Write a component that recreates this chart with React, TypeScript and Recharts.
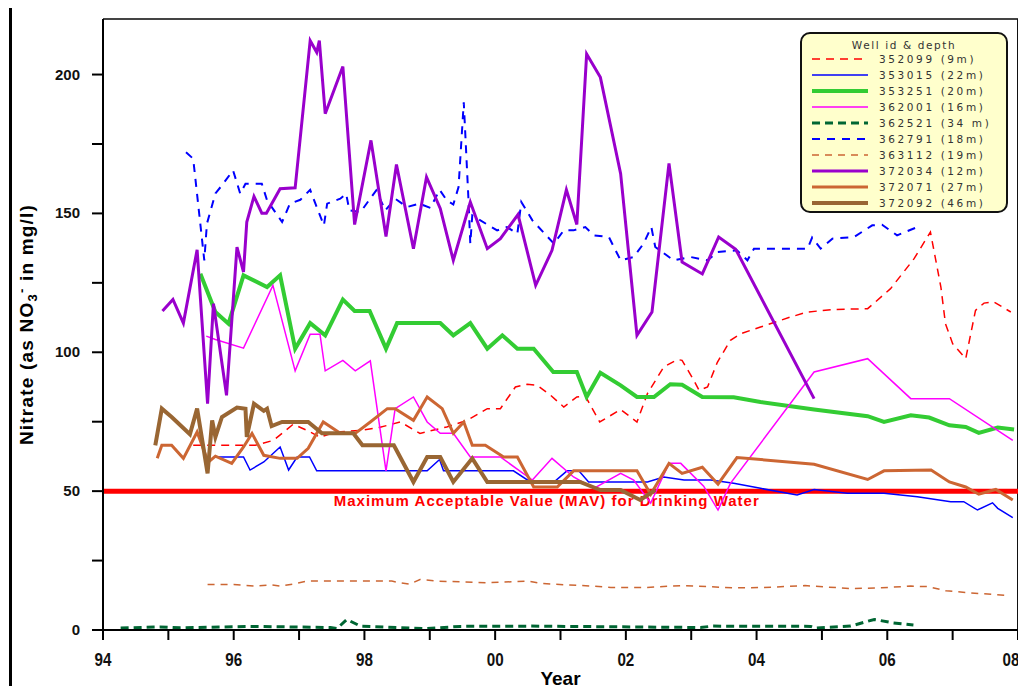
import React from "react";
import { LineChart, Line, XAxis, YAxis, ReferenceLine } from "recharts";

type Pt = [number, number];

// nitrate readings per well: [decimal year, NO3 mg/l]
const w352099: Pt[] = [
  [1995.38, 66.5], [1995.69, 66.5], [1996.33, 66.5], [1996.61, 68.3], [1996.91, 74.1],
  [1997.12, 71.9], [1997.32, 69.4], [1997.55, 71.2], [1997.94, 71.9], [1998.24, 73.0],
  [1998.55, 74.9], [1998.85, 70.8], [1999.26, 73.1], [1999.57, 75.5], [1999.88, 79.7],
  [2000.08, 79.7], [2000.31, 87.5], [2000.49, 88.5], [2000.64, 88.1], [2000.85, 84.5],
  [2001.05, 80.3], [2001.25, 83.9], [2001.38, 84.2], [2001.6, 74.9], [2001.92, 79.4],
  [2002.17, 74.9], [2002.33, 85.1], [2002.58, 94.7], [2002.79, 97.4], [2002.86, 97.1],
  [2003.04, 89.9], [2003.12, 86.3], [2003.25, 87.5], [2003.4, 96.4], [2003.6, 104.3],
  [2003.76, 106.7], [2004.06, 109.1], [2004.52, 112.7], [2004.78, 114.5], [2005.18, 115.4],
  [2005.7, 115.7], [2006.05, 122.9], [2006.41, 133.7], [2006.66, 143.3], [2006.82, 123.5],
  [2006.89, 110.3], [2007.0, 103.1], [2007.2, 97.7], [2007.35, 115.1], [2007.48, 117.7],
  [2007.63, 118.1], [2007.89, 114.5],
];

const w353015: Pt[] = [
  [1995.72, 62.3], [1996.15, 62.3], [1996.25, 57.6], [1996.46, 60.5], [1996.71, 65.9],
  [1996.84, 57.6], [1996.97, 62.3], [1997.16, 62.3], [1997.27, 57.3], [1998.96, 57.3],
  [1999.15, 61.4], [1999.21, 57.3], [2000.28, 57.3], [2000.54, 53.3], [2000.9, 53.3],
  [2001.1, 57.3], [2001.28, 57.3], [2001.43, 53.3], [2002.33, 53.3], [2002.58, 55.1],
  [2002.89, 54.0], [2003.3, 54.0], [2003.65, 52.8], [2004.06, 51.0], [2004.62, 48.6],
  [2004.88, 50.6], [2005.39, 49.2], [2005.95, 49.2], [2006.46, 48.0], [2006.97, 46.2],
  [2007.17, 46.2], [2007.38, 43.2], [2007.61, 45.8], [2007.69, 43.8], [2007.92, 40.5],
];

const w353251: Pt[] = [
  [1995.49, 128.3], [1995.72, 114.5], [1995.92, 110.3], [1996.15, 127.7], [1996.51, 123.5],
  [1996.71, 127.7], [1996.94, 101.3], [1997.17, 110.5], [1997.4, 106.1], [1997.67, 119.0],
  [1997.85, 114.9], [1998.08, 114.9], [1998.33, 101.3], [1998.5, 110.5], [1999.16, 110.5],
  [1999.36, 106.1], [1999.62, 110.5], [1999.88, 101.3], [2000.11, 106.1], [2000.34, 101.3],
  [2000.59, 101.3], [2000.89, 92.9], [2001.25, 92.9], [2001.4, 83.9], [2001.61, 92.6],
  [2001.92, 88.1], [2002.17, 83.9], [2002.43, 83.9], [2002.68, 88.5], [2002.86, 88.3],
  [2003.17, 83.9], [2003.65, 83.8], [2004.06, 82.1], [2004.88, 79.4], [2005.7, 77.0],
  [2005.95, 74.9], [2006.36, 77.3], [2006.64, 76.5], [2006.95, 73.7], [2007.2, 73.1],
  [2007.4, 71.0], [2007.69, 72.9], [2007.94, 72.2],
];

const w362001: Pt[] = [
  [1995.58, 105.8], [1995.72, 104.6], [1996.15, 101.5], [1996.6, 124.1], [1996.94, 93.3],
  [1997.17, 106.5], [1997.32, 106.5], [1997.4, 93.3], [1997.67, 97.1], [1997.86, 93.3],
  [1998.09, 96.9], [1998.33, 57.3], [1998.47, 79.7], [1998.75, 83.9], [1998.96, 74.9],
  [1999.16, 70.8], [1999.36, 70.8], [1999.62, 62.3], [2000.08, 62.3], [2000.57, 54.0],
  [2000.87, 61.8], [2001.2, 55.1], [2001.51, 51.0], [2001.92, 56.4], [2002.12, 54.0],
  [2002.38, 45.7], [2002.66, 60.0], [2002.84, 60.0], [2003.19, 51.8], [2003.41, 43.2],
  [2003.6, 52.8], [2004.88, 92.9], [2005.7, 97.7], [2006.36, 83.3], [2006.95, 83.3],
  [2007.92, 68.3],
];

const w362521: Pt[] = [
  [1994.27, 0.7], [1994.87, 1.1], [1995.18, 0.8], [1996.25, 1.3], [1997.48, 0.9],
  [1997.58, 0.5], [1997.73, 3.8], [1997.94, 1.4], [1998.94, 0.5], [1999.47, 1.3],
  [2000.54, 1.4], [2003.14, 0.9], [2003.33, 1.4], [2004.83, 1.3], [2004.9, 0.7],
  [2005.44, 1.4], [2005.8, 3.8], [2006.08, 2.6], [2006.4, 1.8],
];

const w362791: Pt[] = [
  [1995.27, 172.0], [1995.38, 169.7], [1995.55, 133.1], [1995.59, 146.3], [1995.72, 157.2],
  [1995.82, 160.1], [1995.99, 165.5], [1996.1, 157.1], [1996.18, 160.7], [1996.43, 160.7],
  [1996.51, 154.7], [1996.74, 146.9], [1996.86, 153.5], [1997.02, 154.9], [1997.17, 158.5],
  [1997.25, 153.5], [1997.38, 145.7], [1997.43, 153.5], [1997.63, 155.3], [1997.72, 157.1],
  [1997.77, 151.1], [1997.94, 150.5], [1998.18, 158.3], [1998.32, 151.1], [1998.47, 155.3],
  [1998.65, 152.3], [1998.84, 153.5], [1999.01, 152.0], [1999.15, 158.5], [1999.26, 154.7],
  [1999.36, 153.2], [1999.44, 159.5], [1999.52, 190.0], [1999.59, 155.9], [1999.62, 139.1],
  [1999.65, 149.3], [1999.9, 145.7], [2000.03, 143.9], [2000.18, 145.1], [2000.34, 142.7],
  [2000.4, 154.1], [2000.57, 147.5], [2000.9, 139.1], [2001.05, 143.9], [2001.2, 143.9],
  [2001.38, 145.1], [2001.51, 142.1], [2001.74, 141.5], [2001.92, 133.1], [2002.12, 134.3],
  [2002.27, 139.1], [2002.39, 145.1], [2002.45, 137.9], [2002.73, 133.1], [2002.99, 134.3],
  [2003.25, 133.1], [2003.4, 136.1], [2003.7, 136.7], [2003.86, 133.1], [2003.96, 137.3],
  [2004.78, 137.3], [2004.85, 141.3], [2004.98, 137.3], [2005.16, 140.9], [2005.49, 141.5],
  [2005.77, 145.7], [2005.92, 145.9], [2006.15, 142.1], [2006.46, 145.1],
];

const w363112: Pt[] = [
  [1995.6, 16.4], [1996.0, 16.4], [1996.31, 15.8], [1996.58, 16.2], [1996.72, 15.8],
  [1996.9, 16.5], [1997.12, 17.6], [1998.42, 17.6], [1998.51, 17.1], [1998.69, 16.5],
  [1998.85, 18.2], [1999.12, 17.6], [1999.88, 17.0], [2000.51, 17.6], [2000.69, 16.8],
  [2001.14, 16.2], [2001.5, 15.8], [2001.77, 15.3], [2002.31, 15.3], [2002.44, 15.5],
  [2002.85, 16.0], [2003.66, 15.2], [2004.11, 15.3], [2004.74, 16.0], [2005.45, 14.9],
  [2005.91, 15.2], [2006.36, 15.8], [2006.63, 15.6], [2006.9, 14.1], [2007.26, 13.4],
  [2007.8, 12.5],
];

const w372034: Pt[] = [
  [1994.91, 114.9], [1995.07, 119.0], [1995.23, 110.5], [1995.44, 136.9], [1995.6, 81.5],
  [1995.69, 117.5], [1995.89, 84.5], [1996.05, 137.9], [1996.15, 128.9], [1996.2, 146.9],
  [1996.31, 156.1], [1996.43, 150.1], [1996.5, 150.1], [1996.71, 158.9], [1996.94, 159.2],
  [1997.17, 212.2], [1997.27, 208.0], [1997.31, 212.2], [1997.4, 185.9], [1997.67, 202.9],
  [1997.85, 146.0], [1998.1, 176.3], [1998.33, 141.7], [1998.49, 167.6], [1998.75, 137.3],
  [1998.95, 163.1], [1999.16, 151.8], [1999.36, 133.1], [1999.62, 154.1], [1999.88, 137.3],
  [2000.08, 140.9], [2000.35, 149.6], [2000.62, 124.1], [2000.87, 136.7], [2001.09, 158.5],
  [2001.25, 146.0], [2001.4, 207.4], [2001.61, 199.0], [2001.92, 164.3], [2002.17, 106.1],
  [2002.4, 114.5], [2002.66, 168.0], [2002.86, 132.5], [2003.17, 128.2], [2003.42, 141.5],
  [2003.68, 137.1], [2004.88, 83.3],
];

const w372071: Pt[] = [
  [1994.83, 61.8], [1994.9, 66.5], [1995.05, 66.5], [1995.23, 61.8], [1995.44, 71.3],
  [1995.61, 60.4], [1995.72, 62.6], [1995.97, 60.0], [1996.15, 65.9], [1996.28, 70.8],
  [1996.46, 62.9], [1996.71, 61.8], [1996.97, 61.8], [1997.14, 65.4], [1997.37, 74.9],
  [1997.63, 70.8], [1997.86, 70.8], [1998.09, 74.9], [1998.35, 79.7], [1998.47, 79.7],
  [1998.75, 75.5], [1998.96, 83.9], [1999.19, 79.7], [1999.36, 70.8], [1999.52, 74.9],
  [1999.65, 66.5], [1999.85, 66.5], [2000.13, 62.3], [2000.34, 62.3], [2000.59, 51.5],
  [2000.95, 51.5], [2001.2, 57.3], [2002.17, 57.3], [2002.38, 48.9], [2002.66, 60.0],
  [2002.86, 56.4], [2003.17, 58.6], [2003.41, 52.5], [2003.7, 62.1], [2004.88, 59.7],
  [2005.7, 54.2], [2005.95, 57.3], [2006.67, 57.6], [2006.95, 53.3], [2007.2, 51.5],
  [2007.4, 48.9], [2007.66, 50.6], [2007.92, 46.8],
];

const w372092: Pt[] = [
  [1994.8, 66.5], [1994.9, 79.7], [1995.05, 76.7], [1995.33, 70.5], [1995.44, 79.7],
  [1995.6, 56.4], [1995.67, 75.5], [1995.72, 69.5], [1995.82, 76.7], [1996.05, 80.1],
  [1996.18, 79.7], [1996.2, 69.5], [1996.31, 81.5], [1996.46, 78.9], [1996.51, 79.7],
  [1996.58, 73.4], [1996.74, 74.9], [1997.14, 74.9], [1997.35, 70.8], [1997.83, 70.8],
  [1997.97, 66.5], [1998.45, 66.5], [1998.75, 53.3], [1998.96, 62.3], [1999.16, 62.3],
  [1999.36, 53.3], [1999.65, 61.8], [1999.88, 53.3], [2001.3, 53.3], [2001.61, 50.4],
  [2001.92, 50.4], [2002.22, 46.8], [2002.45, 50.4],
];

const yTicks = [0, 25, 50, 75, 100, 125, 150, 175, 200];
const xTicks = [1994, 1995, 1996, 1997, 1998, 1999, 2000, 2001, 2002, 2003, 2004, 2005, 2006, 2007, 2008];
const MAV = 50;

const wells = [
  { id: "352099", depth: "(9m)", pts: w352099, color: "#ff0000", width: 1.5, dash: "8 6" },
  { id: "353015", depth: "(22m)", pts: w353015, color: "#0000ff", width: 1.5 },
  { id: "353251", depth: "(20m)", pts: w353251, color: "#33cc33", width: 4 },
  { id: "362001", depth: "(16m)", pts: w362001, color: "#ff00ff", width: 1.5 },
  { id: "362521", depth: "(34 m)", pts: w362521, color: "#006633", width: 3, dash: "8 5" },
  { id: "362791", depth: "(18m)", pts: w362791, color: "#0000ff", width: 2, dash: "8 7" },
  { id: "363112", depth: "(19m)", pts: w363112, color: "#cc6633", width: 1.5, dash: "7 6" },
  { id: "372034", depth: "(12m)", pts: w372034, color: "#9900cc", width: 3 },
  { id: "372071", depth: "(27m)", pts: w372071, color: "#cc6633", width: 3 },
  { id: "372092", depth: "(46m)", pts: w372092, color: "#996633", width: 4 },
];

const FONT = "'Liberation Sans', Arial, sans-serif";
const LEGEND_FONT = "'DejaVu Sans', Verdana, sans-serif";

// even years get a two-digit label, odd years only a tick
function YearTick(props: any) {
  const { x, y, payload } = props;
  const yr = payload.value as number;
  if (yr % 2 !== 0) return null;
  const tx = Math.min(x, 1011);
  return (
    <g transform={`translate(${tx},${y + 24})`}>
      <text
        transform="scale(0.8,1)"
        textAnchor="middle"
        fontFamily={FONT}
        fontWeight="bold"
        fontSize={19}
        fill="#111"
      >
        {String(yr % 100).padStart(2, "0")}
      </text>
    </g>
  );
}

// labels only every 50 mg/l; the 25s keep just their tick mark
function NitrateTick(props: any) {
  const { x, y, payload } = props;
  const v = payload.value as number;
  if (v % 50 !== 0) return null;
  return (
    <text
      x={x - 10}
      y={y + 5}
      textAnchor="end"
      fontFamily={FONT}
      fontWeight="bold"
      fontSize={15}
      fill="#111"
    >
      {v}
    </text>
  );
}

function NitrateLabel(props: any) {
  const vb = props.viewBox;
  const cx = 33;
  const cy = vb.y + vb.height / 2;
  return (
    <text
      x={cx}
      y={cy}
      transform={`rotate(-90 ${cx} ${cy})`}
      textAnchor="middle"
      fontFamily={FONT}
      fontWeight="bold"
      fontSize={19}
      letterSpacing={1.2}
      fill="#000"
    >
      Nitrate (as NO
      <tspan dy={4} fontSize={13}>3</tspan>
      <tspan dy={-11} fontSize={13}>-</tspan>
      <tspan dy={7}> in mg/l)</tspan>
    </text>
  );
}

function MavLabel(props: any) {
  const vb = props.viewBox;
  return (
    <text
      x={vb.x + vb.width * 0.485}
      y={vb.y + 15}
      textAnchor="middle"
      fontFamily={FONT}
      fontWeight="bold"
      fontSize={15}
      letterSpacing={1}
      fill="#ff0000"
    >
      Maximum Acceptable Value (MAV) for Drinking Water
    </text>
  );
}

function WellLegend() {
  return (
    <div
      style={{
        position: "absolute",
        left: 800,
        top: 32,
        width: 208,
        height: 181,
        background: "#ffffcc",
        border: "2px solid #111",
        borderRadius: 10,
        boxSizing: "border-box",
        fontFamily: LEGEND_FONT,
        fontSize: 10.5,
        color: "#333",
        letterSpacing: 2.6,
        paddingTop: 5,
      }}
    >
      <div style={{ textAlign: "center", height: 12, lineHeight: "12px", letterSpacing: 1.6 }}>
        Well id &amp; depth
      </div>
      {wells.map((w) => (
        <div key={w.id} style={{ display: "flex", alignItems: "center", height: 16 }}>
          <svg width={58} height={10} style={{ marginLeft: 9, marginRight: 10, flex: "none" }}>
            <line
              x1={1}
              y1={5}
              x2={57}
              y2={5}
              stroke={w.color}
              strokeWidth={w.width}
              strokeDasharray={w.dash}
            />
          </svg>
          <span style={{ whiteSpace: "nowrap" }}>
            {w.id} {w.depth}
          </span>
        </div>
      ))}
    </div>
  );
}

export default function App() {
  return (
    <div
      style={{
        position: "relative",
        width: 1026,
        height: 694,
        margin: -8,
        overflow: "hidden",
        background: "#fff",
      }}
    >
      <div
        style={{
          position: "absolute",
          left: 9,
          top: 5,
          width: 1040,
          height: 720,
          border: "3px solid #000",
        }}
      />
      <div style={{ position: "absolute", left: 0, top: 0 }}>
        <LineChart width={1026} height={694} margin={{ top: 19, right: 8, bottom: 24, left: 0 }}>
          <XAxis
            type="number"
            dataKey="yr"
            domain={[1994, 2008]}
            ticks={xTicks}
            interval={0}
            allowDataOverflow
            height={40}
            stroke="#000"
            strokeWidth={2}
            tickSize={10}
            tick={<YearTick />}
            label={{
              value: "Year",
              position: "insideBottom",
              offset: -15,
              fontFamily: FONT,
              fontWeight: "bold",
              fontSize: 19,
              fill: "#000",
            }}
          />
          <YAxis
            type="number"
            domain={[0, 220]}
            ticks={yTicks}
            interval={0}
            width={103}
            stroke="#000"
            strokeWidth={2}
            tickSize={11}
            tick={<NitrateTick />}
            label={<NitrateLabel />}
          />
          <ReferenceLine y={220} stroke="#444" strokeWidth={2} />
          <ReferenceLine x={2008} stroke="#111" strokeWidth={2} />
          <ReferenceLine y={MAV} stroke="#ff0000" strokeWidth={5} label={<MavLabel />} />
          {wells.map((w) => (
            <Line
              key={w.id}
              data={w.pts.map(([yr, v]) => ({ yr, v }))}
              dataKey="v"
              name={w.id}
              type="linear"
              stroke={w.color}
              strokeWidth={w.width}
              strokeDasharray={w.dash}
              dot={false}
              activeDot={false}
              isAnimationActive={false}
            />
          ))}
        </LineChart>
      </div>
      <WellLegend />
    </div>
  );
}
